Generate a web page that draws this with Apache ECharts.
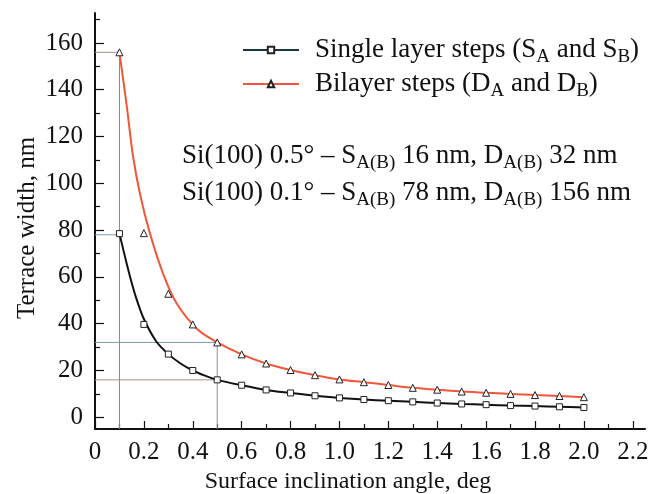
<!DOCTYPE html>
<html>
<head>
<meta charset="utf-8">
<script src="https://cdn.jsdelivr.net/npm/echarts@6/dist/echarts.min.js"></script>
<style>
html, body { margin: 0; padding: 0; background: #fff; }
#container { width: 659px; height: 494px; }
</style>
</head>
<body>
<div id="container"></div>
<script>
// values
var angles = [0.1, 0.2, 0.3, 0.4, 0.5, 0.6, 0.7, 0.8, 0.9, 1.0, 1.1, 1.2, 1.3, 1.4, 1.5, 1.6, 1.7, 1.8, 1.9, 2.0];
var singleSteps = [78.5, 39.7, 27, 20, 16, 13.7, 11.7, 10.4, 9.2, 8.3, 7.6, 7.1, 6.6, 6.1, 5.7, 5.4, 5.0, 4.8, 4.5, 4.2];
var bilayerSteps = [156, 78.7, 52.8, 39.7, 32, 26.9, 23, 20.2, 18, 16.2, 15, 13.8, 12.6, 11.8, 11.0, 10.5, 10.0, 9.5, 9.1, 8.6];

// the drawn curves do not go through every marker at the steep end
var singleCurveAngles = [0.1, 0.13, 0.15, 0.17, 0.2, 0.25, 0.3, 0.35, 0.4, 0.45, 0.5];
var singleCurve = [78.5, 65.5, 57.5, 50.5, 42, 32.5, 27, 23, 20, 17.8, 16];
var bilayerCurveAngles = [0.1, 0.13, 0.155, 0.185, 0.225, 0.28, 0.335, 0.42, 0.5];
var bilayerCurve = [156, 133, 112, 95, 78.5, 61, 48.5, 37.5, 32];

var guideAngles = [0.1, 0.5];
var guideSingle = [78, 16];
var guideBilayer = [156, 32];

var xTicks = [0, 0.2, 0.4, 0.6, 0.8, 1.0, 1.2, 1.4, 1.6, 1.8, 2.0, 2.2];
var xMinorTicks = [0.1, 0.3, 0.5, 0.7, 0.9, 1.1, 1.3, 1.5, 1.7, 1.9, 2.1];
var yTicks = [0, 20, 40, 60, 80, 100, 120, 140, 160];
var yMinorTicks = [10, 30, 50, 70, 90, 110, 130, 150, 170];

var X_MIN = 0, X_MAX = 2.25, Y_MIN = -5, Y_MAX = 172.8;
var FONT = '"Liberation Serif", "DejaVu Serif", serif';

function curveData(cx, cy, vals) {
	var out = [];
	for (var i = 0; i < cx.length; i++) out.push([cx[i], cy[i]]);
	for (var j = 0; j < angles.length; j++) {
		if (angles[j] > cx[cx.length - 1] + 1e-9) out.push([angles[j], vals[j]]);
	}
	return out;
}
function pts(vals) {
	return angles.map(function (a, i) { return [a, vals[i]]; });
}
function guide(data, color) {
	return {
		type: 'line', silent: true, symbol: 'none', z: 1,
		lineStyle: { color: color, width: 1 },
		data: data, animation: false
	};
}

var dom = document.getElementById('container');
var myChart = echarts.init(dom, null, { renderer: 'canvas' });

var subRich = {
	s: { fontSize: 19, fontFamily: FONT, lineHeight: 17, verticalAlign: 'bottom', color: '#111' }
};

var blueGray = '#7f9aaa';
var brownGray = '#a8928a';

var option = {
	animation: false,
	grid: { left: 95, right: 14, top: 13, bottom: 65, outerBoundsMode: 'none', containLabel: false },
	legend: {
		orient: 'vertical',
		left: 242,
		top: 33,
		padding: 0,
		itemGap: 0,
		itemWidth: 56,
		itemHeight: 8,
		data: [
			{ name: 'Single layer steps', lineStyle: { color: '#1d3540', width: 2 } },
			{ name: 'Bilayer steps' }
		],
		formatter: function (name) {
			if (name === 'Single layer steps') return 'Single layer steps (S{s|A} and S{s|B})';
			return 'Bilayer steps (D{s|A} and D{s|B})';
		},
		textStyle: {
			fontFamily: FONT, fontSize: 27, color: '#111', lineHeight: 34,
			padding: [0, 0, 0, 11],
			rich: subRich
		}
	},
	xAxis: [{
		type: 'value', min: X_MIN, max: X_MAX, interval: 0.2,
		splitLine: { show: false },
		name: 'Surface inclination angle, deg',
		nameLocation: 'middle', nameGap: 37,
		nameTextStyle: { fontFamily: FONT, fontSize: 24, color: '#111', padding: [0, 44, 0, 0] },
		axisLine: { onZero: false, lineStyle: { color: '#111', width: 2 } },
		axisTick: { inside: true, length: 8, customValues: xTicks, lineStyle: { color: '#111', width: 1.2 } },
		axisLabel: {
			customValues: xTicks, margin: 11,
			fontFamily: FONT, fontSize: 25, color: '#111',
			formatter: function (v) { return v === 0 ? '0' : v.toFixed(1); }
		}
	}, {
		type: 'value', min: X_MIN, max: X_MAX, position: 'bottom',
		splitLine: { show: false },
		axisLine: { show: false, onZero: false },
		axisLabel: { show: false },
		axisTick: { inside: true, length: 5, customValues: xMinorTicks, lineStyle: { color: '#111', width: 1.2 } }
	}],
	yAxis: [{
		type: 'value', min: Y_MIN, max: Y_MAX, interval: 20,
		splitLine: { show: false },
		name: 'Terrace width, nm',
		nameLocation: 'middle', nameGap: 55, nameMoveOverlap: false,
		nameTextStyle: { fontFamily: FONT, fontSize: 25, color: '#111', padding: [0, 14, 0, 0] },
		axisLine: { show: true, onZero: false, lineStyle: { color: '#111', width: 2 } },
		axisTick: { inside: true, length: 9, customValues: yTicks, lineStyle: { color: '#111', width: 1.2 } },
		axisLabel: {
			customValues: yTicks, margin: 12,
			fontFamily: FONT, fontSize: 25, color: '#111'
		}
	}, {
		type: 'value', min: Y_MIN, max: Y_MAX, position: 'left',
		splitLine: { show: false },
		axisLine: { show: false, onZero: false },
		axisLabel: { show: false },
		axisTick: { inside: true, length: 5, customValues: yMinorTicks, lineStyle: { color: '#111', width: 1.2 } }
	}],
	graphic: [{
		type: 'text', left: 182, top: 139,
		style: {
			text: 'Si(100) 0.5° – S{s|A(B)} 16 nm, D{s|A(B)} 32 nm',
			fontFamily: FONT, fontSize: 27, lineHeight: 34, fill: '#111',
			rich: subRich
		}
	}, {
		type: 'text', left: 182, top: 176,
		style: {
			text: 'Si(100) 0.1° – S{s|A(B)} 78 nm, D{s|A(B)} 156 nm',
			fontFamily: FONT, fontSize: 27, lineHeight: 34, fill: '#111',
			rich: subRich
		}
	}],
	series: [
		guide([[X_MIN, guideBilayer[0]], [guideAngles[0], guideBilayer[0]]], brownGray),
		guide([[X_MIN, guideSingle[0]], [guideAngles[0], guideSingle[0]]], blueGray),
		guide([[guideAngles[0], Y_MIN], [guideAngles[0], guideBilayer[0]]], '#8a8488'),
		guide([[X_MIN, guideBilayer[1]], [guideAngles[1], guideBilayer[1]]], blueGray),
		guide([[X_MIN, guideSingle[1]], [guideAngles[1], guideSingle[1]]], brownGray),
		guide([[guideAngles[1], Y_MIN], [guideAngles[1], guideBilayer[1]]], '#8d959a'),
		{
			name: 'Single layer steps', type: 'line', smooth: 0.3,
			showSymbol: false, symbol: 'rect', symbolSize: 6, z: 3,
			lineStyle: { color: '#111', width: 2 },
			itemStyle: { color: '#fff', borderColor: '#222', borderWidth: 1 },
			data: curveData(singleCurveAngles, singleCurve, singleSteps)
		},
		{
			name: 'Bilayer steps', type: 'line', smooth: 0.3,
			showSymbol: false, symbol: 'triangle', symbolSize: 7, z: 3,
			lineStyle: { color: '#f0573a', width: 2 },
			itemStyle: { color: '#fff', borderColor: '#222', borderWidth: 1 },
			data: curveData(bilayerCurveAngles, bilayerCurve, bilayerSteps)
		},
		{
			name: 'single markers', type: 'scatter', symbol: 'rect', symbolSize: 6, z: 4,
			itemStyle: { color: '#fff', borderColor: '#222', borderWidth: 1, opacity: 1 },
			data: pts(singleSteps)
		},
		{
			name: 'bilayer markers', type: 'scatter', symbol: 'triangle', symbolSize: 7, z: 4,
			itemStyle: { color: '#fff', borderColor: '#222', borderWidth: 1, opacity: 1 },
			data: pts(bilayerSteps)
		}
	]
};

if (option && typeof option === 'object') {
	myChart.setOption(option, true);
}
</script>
</body>
</html>
